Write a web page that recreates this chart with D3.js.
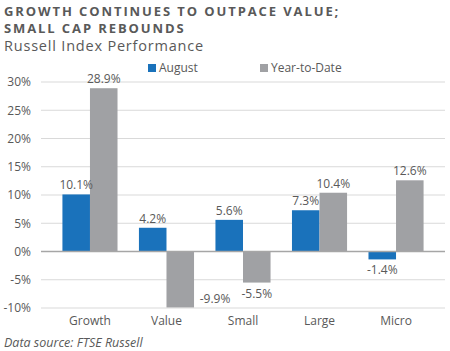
<!DOCTYPE html>
<html>
<head>
<meta charset="utf-8">
<script src="https://cdn.jsdelivr.net/npm/d3@7"></script>
<style>
  body { margin: 0; background: #fff; }
  text { font-family: "Open Sans", sans-serif; fill: #595959; }
</style>
</head>
<body>
<div class="chart"></div>
<script>
const categories = ["Growth", "Value", "Small", "Large", "Micro"];
const seriesNames = ["August", "Year-to-Date"];
const august = [10.1, 4.2, 5.6, 7.3, -1.4];
const ytd = [28.9, -9.9, -5.5, 10.4, 12.6];
const yTicks = [-10, -5, 0, 5, 10, 15, 20, 25, 30];
const colors = ["#1a72bb", "#a0a1a4"];

const W = 450, H = 351;
const margin = { top: 82, right: 5, bottom: 43, left: 41 };
const width = W - margin.left - margin.right;
const height = H - margin.top - margin.bottom;

const svg = d3.select('.chart')
  .append('svg')
  .attr('width', W)
  .attr('height', H);

// titles
svg.append('text').attr('x', 4).attr('y', 15.5)
  .text('GROWTH CONTINUES TO OUTPACE VALUE;')
  .style('font-size', '13px').style('font-weight', 'bold').style('letter-spacing', '1.9px');
svg.append('text').attr('x', 4).attr('y', 33)
  .text('SMALL CAP REBOUNDS')
  .style('font-size', '13px').style('font-weight', 'bold').style('letter-spacing', '1.9px');
svg.append('text').attr('x', 4).attr('y', 50.5)
  .text('Russell Index Performance')
  .style('font-size', '14.5px').style('letter-spacing', '0.8px');

const g = svg.append('g')
  .attr('transform', `translate(${margin.left}, ${margin.top})`);

const yScale = d3.scaleLinear()
  .domain([-10, 30])
  .range([height, 0]);

const xScale = d3.scaleBand()
  .domain(categories)
  .range([0, width])
  .padding(0.28);

const xInner = d3.scaleBand()
  .domain(seriesNames)
  .range([0, xScale.bandwidth()]);

// gridlines
g.selectAll('.grid')
  .data(yTicks.filter(t => t !== 0))
  .enter()
  .append('line')
  .attr('x1', 0).attr('x2', width)
  .attr('y1', d => yScale(d)).attr('y2', d => yScale(d))
  .attr('stroke', '#d9d9d9').attr('stroke-width', 1);

// y axis labels
const yAxis = d3.axisLeft(yScale)
  .tickValues(yTicks)
  .tickSize(0)
  .tickPadding(10)
  .tickFormat(d => d + '%');
g.append('g').call(yAxis)
  .call(s => s.select('.domain').remove())
  .selectAll('text')
  .style('font-size', '12px')
  .style('fill', '#595959');

const rows = categories.map((c, i) => ({ cat: c, vals: [august[i], ytd[i]] }));

const groups = g.selectAll('.grp')
  .data(rows)
  .enter()
  .append('g')
  .attr('transform', d => `translate(${xScale(d.cat)}, 0)`);

groups.selectAll('rect')
  .data(d => d.vals.map((v, j) => ({ key: seriesNames[j], v, j })))
  .enter()
  .append('rect')
  .attr('x', d => xInner(d.key))
  .attr('y', d => yScale(Math.max(0, d.v)))
  .attr('width', xInner.bandwidth())
  .attr('height', d => Math.abs(yScale(d.v) - yScale(0)))
  .attr('fill', d => colors[d.j]);

// labels; a bar that reaches the bottom gets its label beside it
const tooLow = d => d.v < 0 && yScale(d.v) + 18 > height;
groups.selectAll('.lbl')
  .data(d => d.vals.map((v, j) => ({ key: seriesNames[j], v, j })))
  .enter()
  .append('text')
  .attr('x', d => tooLow(d)
    ? xInner(d.key) + xInner.bandwidth() + 21
    : xInner(d.key) + xInner.bandwidth() / 2)
  .attr('y', d => {
    if (d.v >= 0) return yScale(d.v) - 5;
    if (tooLow(d)) return yScale(d.v) - 4;
    return yScale(d.v) + 15;
  })
  .attr('text-anchor', 'middle')
  .style('font-size', '12px')
  .text(d => d.v.toFixed(1) + '%');

// zero line
g.append('line')
  .attr('x1', 0).attr('x2', width)
  .attr('y1', yScale(0)).attr('y2', yScale(0))
  .attr('stroke', '#a6a6a6').attr('stroke-width', 1.5);

// x axis labels
const xAxis = d3.axisBottom(xScale).tickSize(0).tickPadding(8);
g.append('g')
  .attr('transform', `translate(0, ${height})`)
  .call(xAxis)
  .call(s => s.select('.domain').remove())
  .selectAll('text')
  .style('font-size', '12px')
  .style('fill', '#595959');

// legend
const legend = svg.append('g')
  .selectAll('g')
  .data(seriesNames)
  .enter()
  .append('g')
  .attr('transform', (d, i) => `translate(${148 + i * 112}, 64)`);
legend.append('rect')
  .attr('width', 8).attr('height', 8)
  .attr('fill', (d, i) => colors[i]);
legend.append('text')
  .attr('x', 11).attr('y', 8)
  .style('font-size', '12px')
  .text(d => d);

svg.append('text').attr('x', 4).attr('y', 347)
  .text('Data source: FTSE Russell')
  .style('font-size', '12.5px').style('font-style', 'italic');
</script>
</body>
</html>
